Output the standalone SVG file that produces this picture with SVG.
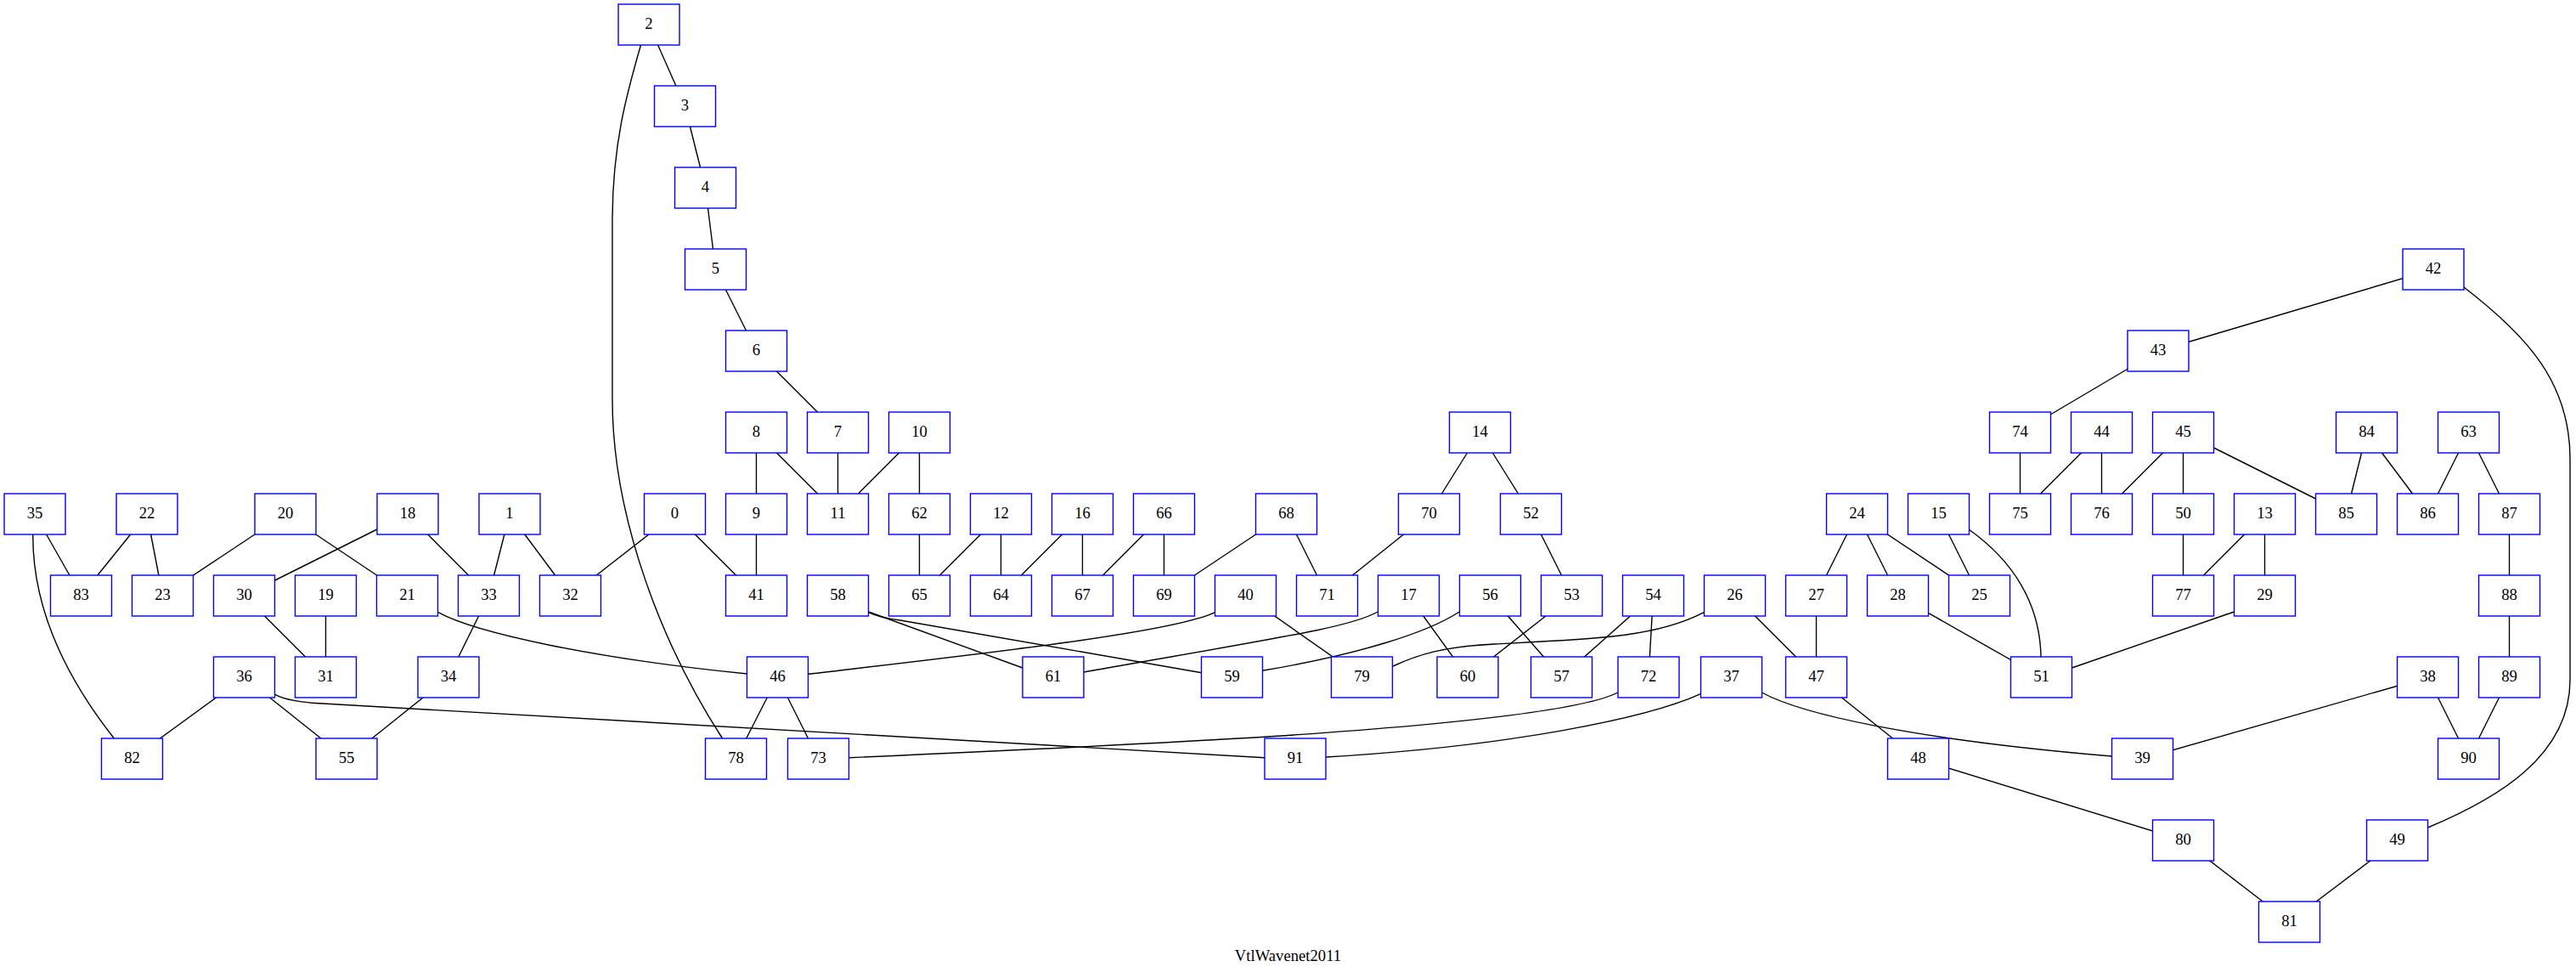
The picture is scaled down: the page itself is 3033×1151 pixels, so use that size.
<svg xmlns="http://www.w3.org/2000/svg" width="3033" height="1151" viewBox="0 0 3033 1151">
<style>
.e path{fill:none;stroke:#000;stroke-width:1.4}
.n rect{fill:#fff;stroke:#0000ff;stroke-width:1.4}
.n text,.t{font-family:"Liberation Serif","Times New Roman",serif;font-size:18.67px;fill:#000;text-anchor:middle}
</style>
<rect width="3033" height="1151" fill="#fff"/>
<g id="edges" class="e">
<path d="M764,29 L806.5,125"/>
<path d="M806.5,125 L830.5,221"/>
<path d="M830.5,221 L842.5,317"/>
<path d="M842.5,317 L890.5,413"/>
<path d="M890.5,413 L986.5,509"/>
<path d="M2865,317 L2541,413"/>
<path d="M2541,413 L2378.5,509"/>
<path d="M890.5,509 L890.5,605"/>
<path d="M890.5,509 L986.5,605"/>
<path d="M986.5,509 L986.5,605"/>
<path d="M1082.5,509 L986.5,605"/>
<path d="M1082.5,509 L1082.5,605"/>
<path d="M1742.5,509 L1682.5,605"/>
<path d="M1742.5,509 L1802.5,605"/>
<path d="M2378.5,509 L2378.5,605"/>
<path d="M2474.5,509 L2378.5,605"/>
<path d="M2474.5,509 L2474.5,605"/>
<path d="M2570.5,509 L2474.5,605"/>
<path d="M2570.5,509 L2570.5,605"/>
<path d="M2570.5,509 L2762.5,605"/>
<path d="M2786.5,509 L2762.5,605"/>
<path d="M2786.5,509 L2858.5,605"/>
<path d="M2906.5,509 L2858.5,605"/>
<path d="M2906.5,509 L2954.5,605"/>
<path d="M41,605 L95.5,701"/>
<path d="M173,605 L95.5,701"/>
<path d="M173,605 L191.5,701"/>
<path d="M336,605 L191.5,701"/>
<path d="M336,605 L479.5,701"/>
<path d="M480,605 L287.5,701"/>
<path d="M480,605 L575.5,701"/>
<path d="M600,605 L575.5,701"/>
<path d="M600,605 L671.5,701"/>
<path d="M794.5,605 L671.5,701"/>
<path d="M794.5,605 L890.5,701"/>
<path d="M890.5,605 L890.5,701"/>
<path d="M1082.5,605 L1082.5,701"/>
<path d="M1178.5,605 L1082.5,701"/>
<path d="M1178.5,605 L1178.5,701"/>
<path d="M1274.5,605 L1178.5,701"/>
<path d="M1274.5,605 L1274.5,701"/>
<path d="M1370.5,605 L1274.5,701"/>
<path d="M1370.5,605 L1370.5,701"/>
<path d="M1514.5,605 L1370.5,701"/>
<path d="M1514.5,605 L1562.5,701"/>
<path d="M1682.5,605 L1562.5,701"/>
<path d="M1802.5,605 L1850.5,701"/>
<path d="M2186.5,605 L2138.5,701"/>
<path d="M2186.5,605 L2234.5,701"/>
<path d="M2186.5,605 L2330.5,701"/>
<path d="M2282.5,605 L2330.5,701"/>
<path d="M2570.5,605 L2570.5,701"/>
<path d="M2666.5,605 L2570.5,701"/>
<path d="M2666.5,605 L2666.5,701"/>
<path d="M2954.5,605 L2954.5,701"/>
<path d="M287.5,701 L383.5,797"/>
<path d="M383.5,701 L383.5,797"/>
<path d="M575.5,701 L528,797"/>
<path d="M1466.5,701 L1603.5,797"/>
<path d="M1658.5,701 L1728,797"/>
<path d="M1850.5,701 L1728,797"/>
<path d="M1754.5,701 L1838.5,797"/>
<path d="M1946.5,701 L1838.5,797"/>
<path d="M1946.5,701 L1941,797"/>
<path d="M2042.5,701 L2138.5,797"/>
<path d="M2138.5,701 L2138.5,797"/>
<path d="M2234.5,701 L2403.5,797"/>
<path d="M2630.5,720 L2439.5,786"/>
<path d="M2954.5,701 L2954.5,797"/>
<path d="M287.5,797 L155.5,893"/>
<path d="M287.5,797 L408,893"/>
<path d="M528,797 L408,893"/>
<path d="M915.5,797 L866.5,893"/>
<path d="M915.5,797 L963.5,893"/>
<path d="M2138.5,797 L2258.5,893"/>
<path d="M2858.5,797 L2522.5,893"/>
<path d="M2858.5,797 L2906.5,893"/>
<path d="M2954.5,797 L2906.5,893"/>
<path d="M2258.5,893 L2570.5,989"/>
<path d="M2570.5,989 L2695.5,1085"/>
<path d="M2822.5,989 L2695.5,1085"/>
<path d="M754.5,53 C738,110 721,170 721,260 L721,470 C721,610 780,760 850.5,869"/>
<path d="M2901,338 C2975,395 3026,450 3026,540 L3026,800 C3026,890 2940,940 2858.5,974"/>
<path d="M38.8,629 C38,720 80,800 134.3,869"/>
<path d="M2318.4,623.3 C2370,660 2402,710 2403,773"/>
<path d="M516,720.7 C560,745 700,775 879.5,793"/>
<path d="M323.8,817.3 Q340,826 380,828 L1489,891.7"/>
<path d="M1430.7,720.7 C1380,745 1150,770 951.8,793.3"/>
<path d="M1022.6,720 L1204,786"/>
<path d="M1022.6,720.7 Q1035,727 1060,730 L1414.7,791.7"/>
<path d="M1622.3,720 C1590,738 1520,748 1276,791"/>
<path d="M1718.3,720 C1680,745 1600,770 1486.4,789.3"/>
<path d="M2006.3,720.7 C1950,750 1880,752 1760,758 C1700,761 1670,770 1640.2,784"/>
<path d="M1904.8,815 C1870,833 1750,850 1500,866.5 C1350,876 1150,885 999.5,891.7"/>
<path d="M2002.3,816.7 C1940,845 1780,878 1561,891"/>
<path d="M2074.4,815 C2120,840 2250,870 2486.5,890"/>
</g>
<g class="n">
<g id="n2"><rect x="728" y="5" width="72" height="48"/><text x="764" y="33.5">2</text></g>
<g id="n3"><rect x="770.5" y="101" width="72" height="48"/><text x="806.5" y="129.5">3</text></g>
<g id="n4"><rect x="794.5" y="197" width="72" height="48"/><text x="830.5" y="225.5">4</text></g>
<g id="n5"><rect x="806.5" y="293" width="72" height="48"/><text x="842.5" y="321.5">5</text></g>
<g id="n6"><rect x="854.5" y="389" width="72" height="48"/><text x="890.5" y="417.5">6</text></g>
<g id="n42"><rect x="2829" y="293" width="72" height="48"/><text x="2865" y="321.5">42</text></g>
<g id="n43"><rect x="2505" y="389" width="72" height="48"/><text x="2541" y="417.5">43</text></g>
<g id="n8"><rect x="854.5" y="485" width="72" height="48"/><text x="890.5" y="513.5">8</text></g>
<g id="n7"><rect x="950.5" y="485" width="72" height="48"/><text x="986.5" y="513.5">7</text></g>
<g id="n10"><rect x="1046.5" y="485" width="72" height="48"/><text x="1082.5" y="513.5">10</text></g>
<g id="n14"><rect x="1706.5" y="485" width="72" height="48"/><text x="1742.5" y="513.5">14</text></g>
<g id="n74"><rect x="2342.5" y="485" width="72" height="48"/><text x="2378.5" y="513.5">74</text></g>
<g id="n44"><rect x="2438.5" y="485" width="72" height="48"/><text x="2474.5" y="513.5">44</text></g>
<g id="n45"><rect x="2534.5" y="485" width="72" height="48"/><text x="2570.5" y="513.5">45</text></g>
<g id="n84"><rect x="2750.5" y="485" width="72" height="48"/><text x="2786.5" y="513.5">84</text></g>
<g id="n63"><rect x="2870.5" y="485" width="72" height="48"/><text x="2906.5" y="513.5">63</text></g>
<g id="n35"><rect x="5" y="581" width="72" height="48"/><text x="41" y="609.5">35</text></g>
<g id="n22"><rect x="137" y="581" width="72" height="48"/><text x="173" y="609.5">22</text></g>
<g id="n20"><rect x="300" y="581" width="72" height="48"/><text x="336" y="609.5">20</text></g>
<g id="n18"><rect x="444" y="581" width="72" height="48"/><text x="480" y="609.5">18</text></g>
<g id="n1"><rect x="564" y="581" width="72" height="48"/><text x="600" y="609.5">1</text></g>
<g id="n0"><rect x="758.5" y="581" width="72" height="48"/><text x="794.5" y="609.5">0</text></g>
<g id="n9"><rect x="854.5" y="581" width="72" height="48"/><text x="890.5" y="609.5">9</text></g>
<g id="n11"><rect x="950.5" y="581" width="72" height="48"/><text x="986.5" y="609.5">11</text></g>
<g id="n62"><rect x="1046.5" y="581" width="72" height="48"/><text x="1082.5" y="609.5">62</text></g>
<g id="n12"><rect x="1142.5" y="581" width="72" height="48"/><text x="1178.5" y="609.5">12</text></g>
<g id="n16"><rect x="1238.5" y="581" width="72" height="48"/><text x="1274.5" y="609.5">16</text></g>
<g id="n66"><rect x="1334.5" y="581" width="72" height="48"/><text x="1370.5" y="609.5">66</text></g>
<g id="n68"><rect x="1478.5" y="581" width="72" height="48"/><text x="1514.5" y="609.5">68</text></g>
<g id="n70"><rect x="1646.5" y="581" width="72" height="48"/><text x="1682.5" y="609.5">70</text></g>
<g id="n52"><rect x="1766.5" y="581" width="72" height="48"/><text x="1802.5" y="609.5">52</text></g>
<g id="n24"><rect x="2150.5" y="581" width="72" height="48"/><text x="2186.5" y="609.5">24</text></g>
<g id="n15"><rect x="2246.5" y="581" width="72" height="48"/><text x="2282.5" y="609.5">15</text></g>
<g id="n75"><rect x="2342.5" y="581" width="72" height="48"/><text x="2378.5" y="609.5">75</text></g>
<g id="n76"><rect x="2438.5" y="581" width="72" height="48"/><text x="2474.5" y="609.5">76</text></g>
<g id="n50"><rect x="2534.5" y="581" width="72" height="48"/><text x="2570.5" y="609.5">50</text></g>
<g id="n13"><rect x="2630.5" y="581" width="72" height="48"/><text x="2666.5" y="609.5">13</text></g>
<g id="n85"><rect x="2726.5" y="581" width="72" height="48"/><text x="2762.5" y="609.5">85</text></g>
<g id="n86"><rect x="2822.5" y="581" width="72" height="48"/><text x="2858.5" y="609.5">86</text></g>
<g id="n87"><rect x="2918.5" y="581" width="72" height="48"/><text x="2954.5" y="609.5">87</text></g>
<g id="n83"><rect x="59.5" y="677" width="72" height="48"/><text x="95.5" y="705.5">83</text></g>
<g id="n23"><rect x="155.5" y="677" width="72" height="48"/><text x="191.5" y="705.5">23</text></g>
<g id="n30"><rect x="251.5" y="677" width="72" height="48"/><text x="287.5" y="705.5">30</text></g>
<g id="n19"><rect x="347.5" y="677" width="72" height="48"/><text x="383.5" y="705.5">19</text></g>
<g id="n21"><rect x="443.5" y="677" width="72" height="48"/><text x="479.5" y="705.5">21</text></g>
<g id="n33"><rect x="539.5" y="677" width="72" height="48"/><text x="575.5" y="705.5">33</text></g>
<g id="n32"><rect x="635.5" y="677" width="72" height="48"/><text x="671.5" y="705.5">32</text></g>
<g id="n41"><rect x="854.5" y="677" width="72" height="48"/><text x="890.5" y="705.5">41</text></g>
<g id="n58"><rect x="950.5" y="677" width="72" height="48"/><text x="986.5" y="705.5">58</text></g>
<g id="n65"><rect x="1046.5" y="677" width="72" height="48"/><text x="1082.5" y="705.5">65</text></g>
<g id="n64"><rect x="1142.5" y="677" width="72" height="48"/><text x="1178.5" y="705.5">64</text></g>
<g id="n67"><rect x="1238.5" y="677" width="72" height="48"/><text x="1274.5" y="705.5">67</text></g>
<g id="n69"><rect x="1334.5" y="677" width="72" height="48"/><text x="1370.5" y="705.5">69</text></g>
<g id="n40"><rect x="1430.5" y="677" width="72" height="48"/><text x="1466.5" y="705.5">40</text></g>
<g id="n71"><rect x="1526.5" y="677" width="72" height="48"/><text x="1562.5" y="705.5">71</text></g>
<g id="n17"><rect x="1622.5" y="677" width="72" height="48"/><text x="1658.5" y="705.5">17</text></g>
<g id="n56"><rect x="1718.5" y="677" width="72" height="48"/><text x="1754.5" y="705.5">56</text></g>
<g id="n53"><rect x="1814.5" y="677" width="72" height="48"/><text x="1850.5" y="705.5">53</text></g>
<g id="n54"><rect x="1910.5" y="677" width="72" height="48"/><text x="1946.5" y="705.5">54</text></g>
<g id="n26"><rect x="2006.5" y="677" width="72" height="48"/><text x="2042.5" y="705.5">26</text></g>
<g id="n27"><rect x="2102.5" y="677" width="72" height="48"/><text x="2138.5" y="705.5">27</text></g>
<g id="n28"><rect x="2198.5" y="677" width="72" height="48"/><text x="2234.5" y="705.5">28</text></g>
<g id="n25"><rect x="2294.5" y="677" width="72" height="48"/><text x="2330.5" y="705.5">25</text></g>
<g id="n77"><rect x="2534.5" y="677" width="72" height="48"/><text x="2570.5" y="705.5">77</text></g>
<g id="n29"><rect x="2630.5" y="677" width="72" height="48"/><text x="2666.5" y="705.5">29</text></g>
<g id="n88"><rect x="2918.5" y="677" width="72" height="48"/><text x="2954.5" y="705.5">88</text></g>
<g id="n36"><rect x="251.5" y="773" width="72" height="48"/><text x="287.5" y="801.5">36</text></g>
<g id="n31"><rect x="347.5" y="773" width="72" height="48"/><text x="383.5" y="801.5">31</text></g>
<g id="n34"><rect x="492" y="773" width="72" height="48"/><text x="528" y="801.5">34</text></g>
<g id="n46"><rect x="879.5" y="773" width="72" height="48"/><text x="915.5" y="801.5">46</text></g>
<g id="n61"><rect x="1204" y="773" width="72" height="48"/><text x="1240" y="801.5">61</text></g>
<g id="n59"><rect x="1414.5" y="773" width="72" height="48"/><text x="1450.5" y="801.5">59</text></g>
<g id="n79"><rect x="1567.5" y="773" width="72" height="48"/><text x="1603.5" y="801.5">79</text></g>
<g id="n60"><rect x="1692" y="773" width="72" height="48"/><text x="1728" y="801.5">60</text></g>
<g id="n57"><rect x="1802.5" y="773" width="72" height="48"/><text x="1838.5" y="801.5">57</text></g>
<g id="n72"><rect x="1905" y="773" width="72" height="48"/><text x="1941" y="801.5">72</text></g>
<g id="n37"><rect x="2002.5" y="773" width="72" height="48"/><text x="2038.5" y="801.5">37</text></g>
<g id="n47"><rect x="2102.5" y="773" width="72" height="48"/><text x="2138.5" y="801.5">47</text></g>
<g id="n51"><rect x="2367.5" y="773" width="72" height="48"/><text x="2403.5" y="801.5">51</text></g>
<g id="n38"><rect x="2822.5" y="773" width="72" height="48"/><text x="2858.5" y="801.5">38</text></g>
<g id="n89"><rect x="2918.5" y="773" width="72" height="48"/><text x="2954.5" y="801.5">89</text></g>
<g id="n82"><rect x="119.5" y="869" width="72" height="48"/><text x="155.5" y="897.5">82</text></g>
<g id="n55"><rect x="372" y="869" width="72" height="48"/><text x="408" y="897.5">55</text></g>
<g id="n78"><rect x="830.5" y="869" width="72" height="48"/><text x="866.5" y="897.5">78</text></g>
<g id="n73"><rect x="927.5" y="869" width="72" height="48"/><text x="963.5" y="897.5">73</text></g>
<g id="n91"><rect x="1489" y="869" width="72" height="48"/><text x="1525" y="897.5">91</text></g>
<g id="n48"><rect x="2222.5" y="869" width="72" height="48"/><text x="2258.5" y="897.5">48</text></g>
<g id="n39"><rect x="2486.5" y="869" width="72" height="48"/><text x="2522.5" y="897.5">39</text></g>
<g id="n90"><rect x="2870.5" y="869" width="72" height="48"/><text x="2906.5" y="897.5">90</text></g>
<g id="n80"><rect x="2534.5" y="965" width="72" height="48"/><text x="2570.5" y="993.5">80</text></g>
<g id="n49"><rect x="2786.5" y="965" width="72" height="48"/><text x="2822.5" y="993.5">49</text></g>
<g id="n81"><rect x="2659.5" y="1061" width="72" height="48"/><text x="2695.5" y="1089.5">81</text></g>
</g>
<text class="t" x="1516.5" y="1131">VtlWavenet2011</text>
</svg>
